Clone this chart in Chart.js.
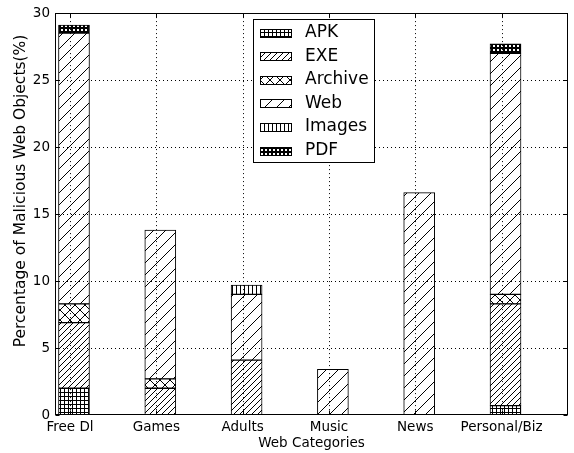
<!DOCTYPE html>
<html>
<head>
<meta charset="utf-8">
<script src="https://cdn.jsdelivr.net/npm/chart.js@4/dist/chart.umd.min.js"></script>
<style>
  html, body { margin: 0; padding: 0; background: #fff; }
  #wrap { width: 574px; height: 453px; }
</style>
</head>
<body>
<div id="wrap"><canvas id="c" width="574" height="453"></canvas></div>
<script>
// Share of malicious web objects per site category, split by object type (%)
const categories = ['Free Dl', 'Games', 'Adults', 'Music', 'News', 'Personal/Biz'];
const seriesNames = ['APK', 'EXE', 'Archive', 'Web', 'Images', 'PDF'];
const apk     = [2.0, 0,    0,   0,   0,    0.7];
const exe     = [4.9, 2.0,  4.1, 0,   0,    7.6];
const archive = [1.4, 0.7,  0,   0,   0,    0.7];
const web     = [20.2, 11.1, 4.9, 3.4, 16.6, 18.0];
const images  = [0,   0,    0.7, 0,   0,    0];
const pdf     = [0.6, 0,    0,   0,   0,    0.7];
const yTicks  = [0, 5, 10, 15, 20, 25, 30];

// layout of the category axis (in category units)
const X_MIN = -0.174, X_MAX = 5.77, BAR_SHIFT = 0.046;
const FONT = 'DejaVu Sans';

const canvas = document.getElementById('c');
const ctx = canvas.getContext('2d');

// hatch tiles
function tile(size, draw) {
  const c = document.createElement('canvas');
  c.width = size; c.height = size;
  const g = c.getContext('2d');
  g.fillStyle = '#fff'; g.fillRect(0, 0, size, size);
  g.fillStyle = '#000'; g.strokeStyle = '#000'; g.lineWidth = 1;
  draw(g, size);
  return ctx.createPattern(c, 'repeat');
}
function diagonal(g, s, up) {
  g.beginPath();
  for (let k = -1; k <= 1; k++) {
    if (up) { g.moveTo(k * s, s); g.lineTo(k * s + s, 0); }
    else    { g.moveTo(k * s, 0); g.lineTo(k * s + s, s); }
  }
  g.stroke();
}
const hatchGrid   = tile(4, (g) => { g.fillRect(0, 0, 4, 1); g.fillRect(0, 0, 1, 4); });
const hatchDense  = tile(6, (g, s) => diagonal(g, s, true));
const hatchCross  = tile(10, (g, s) => { diagonal(g, s, true); diagonal(g, s, false); });
const hatchSparse = tile(12, (g, s) => diagonal(g, s, true));
const hatchVert   = tile(4, (g) => { g.fillRect(0, 0, 1, 4); });
const hatchDots   = tile(4, (g) => {
  g.fillStyle = '#000'; g.fillRect(0, 0, 4, 4);
  g.fillStyle = '#fff'; g.fillRect(1, 1, 2, 2);
});

const series = [apk, exe, archive, web, images, pdf];
const fills = [hatchGrid, hatchDense, hatchCross, hatchSparse, hatchVert, hatchDots];

const datasets = seriesNames.map((name, i) => ({
  label: name,
  data: series[i].map((v, j) => ({ x: j + BAR_SHIFT, y: v })).filter(p => p.y > 0),
  backgroundColor: fills[i],
  borderColor: '#000',
  borderWidth: 1,
  borderSkipped: false,
  barThickness: 31
}));

// dotted grid above the bars, axes frame, inward ticks, titles and legend
const decorations = {
  id: 'decorations',
  afterDatasetsDraw(chart) {
    const { ctx: c, chartArea: a, scales } = chart;
    const xs = scales.x, ys = scales.y;
    c.save();
    c.strokeStyle = '#000';
    c.lineWidth = 1;
    c.setLineDash([1, 3]);
    c.beginPath();
    categories.forEach((_, i) => {
      const px = Math.round(xs.getPixelForValue(i)) + 0.5;
      c.moveTo(px, a.top); c.lineTo(px, a.bottom);
    });
    yTicks.slice(1, -1).forEach(v => {
      const py = Math.round(ys.getPixelForValue(v)) + 0.5;
      c.moveTo(a.left, py); c.lineTo(a.right, py);
    });
    c.stroke();
    c.setLineDash([]);

    // frame
    const L = Math.round(a.left) + 0.5, R = Math.round(a.right) - 0.5;
    const T = Math.round(a.top) + 0.5, B = Math.round(a.bottom) - 0.5;
    c.strokeRect(L, T, R - L, B - T);

    // inward ticks on all four sides
    c.beginPath();
    categories.forEach((_, i) => {
      const px = Math.round(xs.getPixelForValue(i)) + 0.5;
      c.moveTo(px, B); c.lineTo(px, B - 4);
      c.moveTo(px, T); c.lineTo(px, T + 4);
    });
    yTicks.forEach(v => {
      const py = Math.round(ys.getPixelForValue(v)) + 0.5;
      c.moveTo(L, py); c.lineTo(L + 4, py);
      c.moveTo(R, py); c.lineTo(R - 4, py);
    });
    c.stroke();

    // axis titles
    c.fillStyle = '#000';
    c.font = '13.5px "' + FONT + '"';
    c.textAlign = 'center';
    c.textBaseline = 'middle';
    c.fillText('Web Categories', (a.left + a.right) / 2, 443);
    c.save();
    c.translate(21, 191);
    c.rotate(-Math.PI / 2);
    c.font = '15.5px "' + FONT + '"';
    c.fillText('Percentage of Malicious Web Objects(%)', 0, 0);
    c.restore();

    // legend
    const bx = 253.5, by = 19.5, bw = 121, bh = 143;
    c.fillStyle = '#fff';
    c.fillRect(bx, by, bw, bh);
    c.strokeRect(bx, by, bw, bh);
    c.font = '17px "' + FONT + '"';
    c.textAlign = 'left';
    seriesNames.forEach((name, i) => {
      const cy = 32.5 + i * 23.6;
      const sy = Math.round(cy - 4);
      c.fillStyle = fills[i];
      c.fillRect(260, sy, 32, 9);
      c.strokeRect(260.5, sy + 0.5, 31, 8);
      c.fillStyle = '#000';
      c.fillText(name, 305, cy);
    });
    c.restore();
  }
};

new Chart(ctx, {
  type: 'bar',
  data: { datasets },
  options: {
    responsive: false,
    animation: false,
    devicePixelRatio: 1,
    layout: { padding: { top: 13, right: 6, left: 0, bottom: 0 } },
    plugins: { legend: { display: false }, tooltip: { enabled: false } },
    scales: {
      x: {
        type: 'linear',
        stacked: true,
        offset: false,
        min: X_MIN,
        max: X_MAX,
        afterBuildTicks: (s) => { s.ticks = categories.map((_, i) => ({ value: i })); },
        afterFit: (s) => { s.height = 38; },
        grid: { display: false, drawTicks: false, offset: false },
        border: { display: false },
        ticks: {
          padding: 4, color: '#000', autoSkip: false, maxRotation: 0,
          font: { family: FONT, size: 13.5 },
          callback: (v) => categories[v]
        }
      },
      y: {
        stacked: true,
        min: 0,
        max: 30,
        afterBuildTicks: (s) => { s.ticks = yTicks.map(v => ({ value: v })); },
        afterFit: (s) => { s.width = 55; },
        grid: { display: false, drawTicks: false },
        border: { display: false },
        ticks: { padding: 5, color: '#000', font: { family: FONT, size: 13.5 } }
      }
    }
  },
  plugins: [decorations]
});
</script>
</body>
</html>
